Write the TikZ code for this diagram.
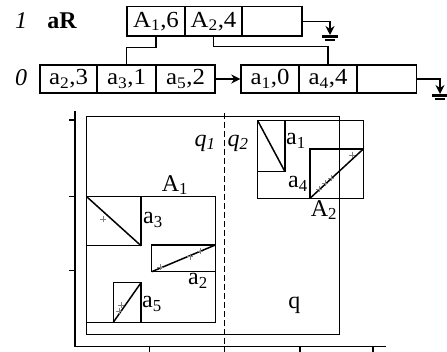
\documentclass[tikz,border=0pt]{standalone}
\usepackage{fontspec}
\setmainfont{Liberation Serif}
\usetikzlibrary{arrows.meta}
\begin{document}
\begin{tikzpicture}[x=1pt,y=-1pt,
  txt/.style={font=\fontsize{24}{28}\selectfont, inner sep=0pt},
  itxt/.style={font=\itshape\fontsize{24}{28}\selectfont, inner sep=0pt},
  cell/.style={draw, line width=1.4pt, font=\fontsize{23}{27}\selectfont\addfontfeature{FakeStretch=1.08}, inner sep=0pt, minimum height=28pt},
  ln/.style={line width=1.5pt},
  arr/.style={line width=1.4pt, -{Stealth[length=9pt,width=9pt]}},
  pl/.style={gray, line width=0.7pt}]
\useasboundingbox (0,0) rectangle (447,352);
% ---------- records ----------
\node[itxt] (l1) at (21,21) {1};
\node[txt, font=\bfseries\fontsize{24}{28}\selectfont] (aR) at (62,21) {aR};
\node[itxt] (l0) at (21,78) {0};
\node[cell, minimum width=58pt, minimum height=29.3pt] (r1a) at (156,21.35) {A\textsubscript{1},6};
\node[cell, minimum width=57pt, minimum height=29.3pt] (r1b) at (213.5,21.35) {A\textsubscript{2},4};
\node[cell, minimum width=60pt, minimum height=29.3pt] (r1c) at (272,21.35) {};
\node[cell, minimum width=57pt] (r0a) at (68.5,79) {a\textsubscript{2},3};
\node[cell, minimum width=59pt] (r0b) at (126.5,79) {a\textsubscript{3},1};
\node[cell, minimum width=59pt] (r0c) at (185.5,79) {a\textsubscript{5},2};
\node[cell, minimum width=58pt] (r0d) at (270,79) {a\textsubscript{1},0};
\node[cell, minimum width=58pt] (r0e) at (328,79) {a\textsubscript{4},4};
\node[cell, minimum width=59.7pt] (r0f) at (386.85,79) {};
\draw[ln] (r1a.south) -- ++(0,10.7) -| (r0b.north);
\draw[ln] (r1b.south) -- ++(0,10) -| (r0e.north);
\draw[arr] (r0c.east) -- (r0d.west);
% ground symbols
\coordinate (g1) at (330,35);
\coordinate (g2) at (440,94);
\draw[arr] (r1c.east) -| (g1);
\draw[line width=2.2pt] (322,36.5) -- (338,36.5);
\draw[line width=1.2pt] (325,40) -- (335,40);
\draw[arr] (r0f.east) -| (g2);
\draw[line width=2.2pt] (432,95.5) -- (447,95.5);
\draw[line width=1.2pt] (435,99) -- (445,99);
% ---------- axes ----------
\draw[ln] (75,111) -- (75,346.7) -- (385.7,346.7);
\foreach \yy in {120,196.7,270.7} \draw[ln] (69,\yy) -- (75,\yy);
\foreach \xx in {149.3,300,373} \draw[ln] (\xx,346.7) -- (\xx,352);
% ---------- regions ----------
\draw[line width=1.3pt] (86.7,116.7) rectangle (339.3,334.3);
\node[txt] (q) at (294.3,305) {q};
\draw[line width=1.5pt, dash pattern=on 6pt off 3pt] (224.5,113) -- (224.5,352);
\node[itxt] (q1) at (205,143) {q\textsubscript{1}};
\node[itxt] (q2) at (238,143) {q\textsubscript{2}};
% A1
\draw[ln] (86.7,196.7) rectangle (215.3,322.3);
\node[txt] (A1) at (175,185) {A\textsubscript{1}};
% a3
\draw[ln] (86.7,196.7) rectangle (141,245.7);
\draw[ln] (86.7,196.7) -- (141,245.7);
\node[txt] (a3) at (153,220) {a\textsubscript{3}};
\draw[pl] (100.3,219.3) -- (106.3,219.3) (103.3,216.3) -- (103.3,222.3);
% a2
\draw[ln] (151.7,245) rectangle (215.3,271.7);
\draw[ln] (151.7,271.7) -- (215.3,245);
\node[txt] (a2) at (198,281) {a\textsubscript{2}};
\foreach \px/\py in {160/267.3,190/256.7,200/251.2}
  \draw[pl] (\px-3,\py) -- (\px+3,\py) (\px,\py-3) -- (\px,\py+3);
% a5
\draw[ln] (113.3,282.7) rectangle (141,322.3);
\draw[ln] (113.3,322.3) -- (141,282.7);
\node[txt] (a5) at (152,304) {a\textsubscript{5}};
\foreach \px/\py in {121/305,119/311.5}
  \draw[pl] (\px-3,\py) -- (\px+3,\py) (\px,\py-3) -- (\px,\py+3);
% A2
\draw[ln] (257.7,120.7) rectangle (363.3,198.3);
\node[txt] (A2) at (324,210) {A\textsubscript{2}};
% a1
\draw[ln] (257.7,120.7) rectangle (285,171.7);
\draw[ln] (257.7,120.7) -- (285,171.7);
\node[txt] (a1) at (296,141) {a\textsubscript{1}};
% a4
\draw[ln] (310,149) rectangle (363.3,198.3);
\draw[ln] (310,198.3) -- (363.3,149);
\node[txt] (a4) at (298,184) {a\textsubscript{4}};
\foreach \px/\py in {319/189,325/183.5,331/178.5,352/155}
  \draw[pl] (\px-3,\py) -- (\px+3,\py) (\px,\py-3) -- (\px,\py+3);
\end{tikzpicture}
\end{document}
